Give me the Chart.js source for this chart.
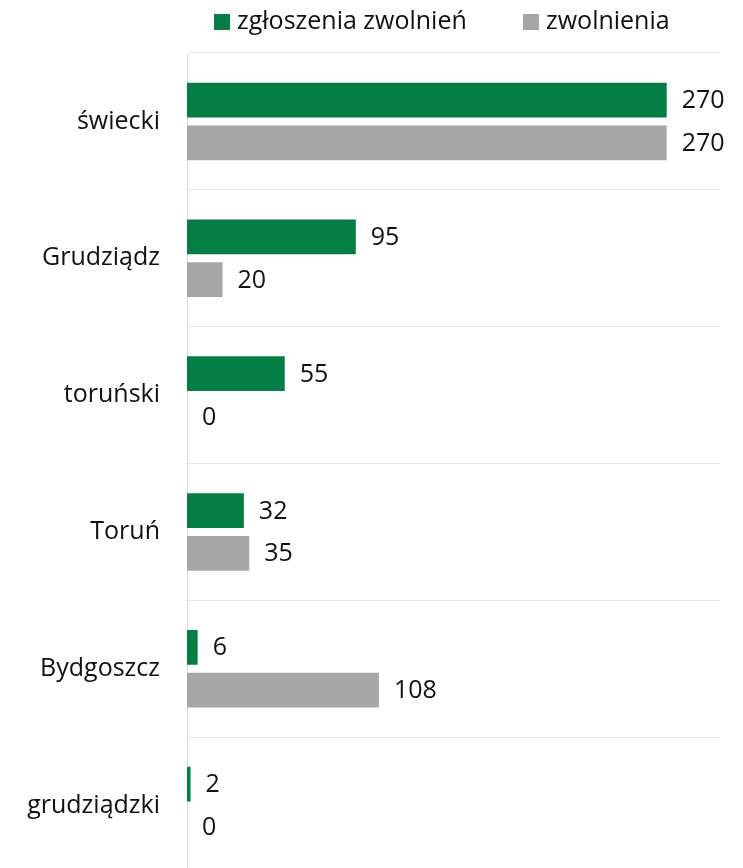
<!DOCTYPE html>
<html lang="pl">
<head>
<meta charset="UTF-8">
<title>Zgłoszenia zwolnień i zwolnienia</title>
<script src="https://cdn.jsdelivr.net/npm/chart.js@4.4.1/dist/chart.umd.min.js"></script>
<style>
	html, body { margin: 0; padding: 0; background: #fff; overflow: hidden; }
	canvas { display: block; }
</style>
</head>
<body>
	<canvas id="chart" width="743" height="876"></canvas>

	<script>
		// dane
		var powiaty = ['świecki', 'Grudziądz', 'toruński', 'Toruń', 'Bydgoszcz', 'grudziądzki'];
		var zgloszenia = [270, 95, 55, 32, 6, 2];
		var zwolnienia = [270, 20, 0, 35, 108, 0];
		var nazwySerii = ['zgłoszenia zwolnień', 'zwolnienia'];

		var FONT = '"Open Sans", "Noto Sans", sans-serif';

		// etykiety wartosci przy slupkach
		var valueLabels = {
			id : 'valueLabels',
			afterDatasetsDraw : function(chart) {
				var ctx = chart.ctx;
				ctx.save();
				ctx.font = '25px ' + FONT;
				ctx.fillStyle = '#111';
				ctx.textAlign = 'left';
				ctx.textBaseline = 'middle';
				chart.data.datasets.forEach(function(ds, i) {
					var meta = chart.getDatasetMeta(i);
					meta.data.forEach(function(bar, j) {
						ctx.fillText(String(ds.data[j]), bar.x + 15, bar.y + 1);
					});
				});
				ctx.restore();
			}
		};

		// legenda na gorze
		var topLegend = {
			id : 'topLegend',
			afterDraw : function(chart) {
				var ctx = chart.ctx;
				var pos = [214, 523];
				ctx.save();
				ctx.font = '25px ' + FONT;
				ctx.textAlign = 'left';
				ctx.textBaseline = 'middle';
				chart.data.datasets.forEach(function(ds, i) {
					ctx.fillStyle = ds.backgroundColor;
					ctx.fillRect(pos[i], 14, 16, 16);
					ctx.fillStyle = '#111';
					ctx.fillText(ds.label, pos[i] + 23, 22);
				});
				ctx.restore();
			}
		};

		var ctx1 = document.getElementById('chart').getContext('2d');
		var chart1 = new Chart(ctx1, {
			type : 'bar',
			data : {
				labels : powiaty,
				datasets : [ {
					label : nazwySerii[0],
					data : zgloszenia,
					backgroundColor : '#047E44',
					categoryPercentage : 0.625,
					barPercentage : 0.814
				}, {
					label : nazwySerii[1],
					data : zwolnienia,
					backgroundColor : '#A6A6A6',
					categoryPercentage : 0.625,
					barPercentage : 0.814
				} ]
			},
			options : {
				indexAxis : 'y',
				responsive : false,
				animation : false,
				layout : {
					padding : { top : 53, right : 23, bottom : 2, left : 0 }
				},
				plugins : {
					legend : { display : false },
					tooltip : { enabled : false }
				},
				scales : {
					x : {
						display : false,
						min : 0,
						max : 300
					},
					y : {
						afterFit : function(scale) {
							scale.width = 187;
							// bez dodatkowego marginesu od etykiet (wykres ucięty u dołu)
							scale.paddingTop = 0;
							scale.paddingBottom = 0;
						},
						grid : {
							color : '#e8e8e8',
							drawTicks : false,
							offset : true
						},
						border : {
							display : true,
							color : '#d9d9d9'
						},
						ticks : {
							color : '#111',
							padding : 27,
							font : { family : FONT, size : 25 }
						}
					}
				}
			},
			plugins : [ valueLabels, topLegend ]
		});
	</script>
</body>
</html>
